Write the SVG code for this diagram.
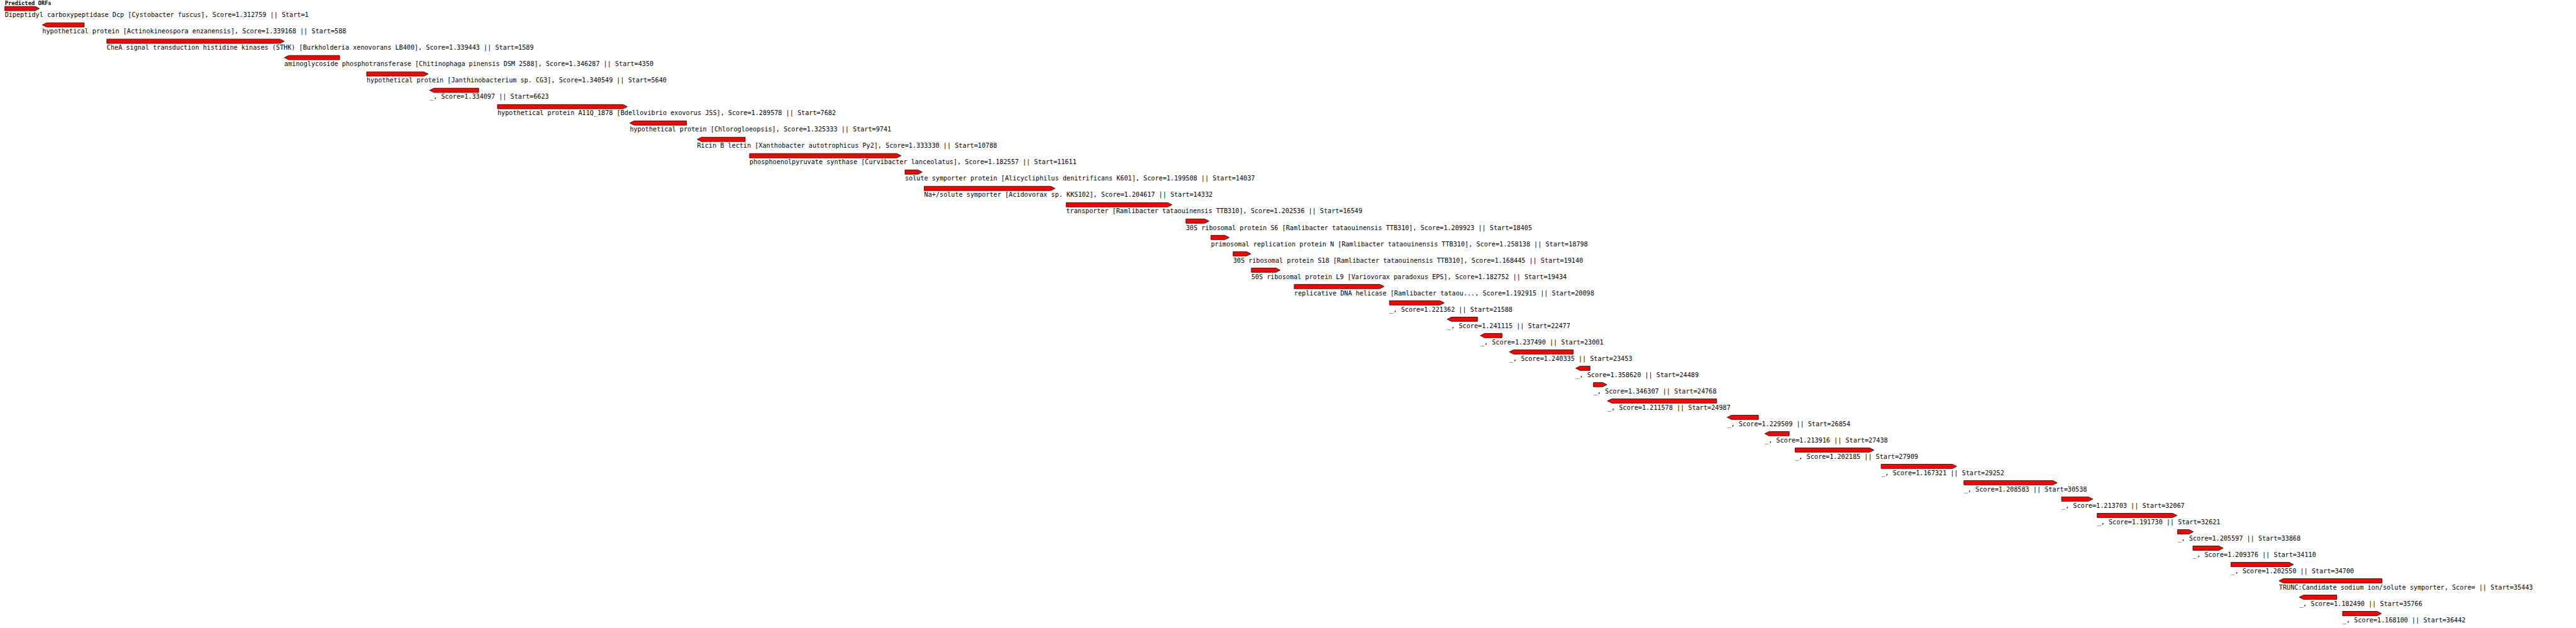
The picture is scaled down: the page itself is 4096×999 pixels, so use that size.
<svg xmlns="http://www.w3.org/2000/svg" width="4096" height="999" viewBox="0 0 4096 999">
<style>
.bar{fill:#ff0000;stroke:#000000;stroke-width:1}
.lbl{font-family:"DejaVu Sans Mono","Liberation Mono",monospace;font-size:13.3px;fill:#000000}
.ttl{font-family:"DejaVu Sans Mono","Liberation Mono",monospace;font-size:11.5px;font-weight:bold;fill:#000000}
</style>
<rect x="0" y="0" width="4096" height="999" fill="#ffffff"/>
<g transform="scale(0.765)">
<text id="title" class="ttl" x="10" y="11">Predicted ORFs</text>
<g id="orf1" transform="translate(0,13.3)"><polygon class="bar" points="10,0 73,0 82,4.5 73,9 10,9"/><text class="lbl" x="10" y="22.5">Dipeptidyl carboxypeptidase Dcp [Cystobacter fuscus], Score=1.312759 || Start=1</text></g>
<g id="orf2" transform="translate(0,47.3)"><polygon class="bar" points="88,4.5 97,0 175,0 175,9 97,9"/><text class="lbl" x="88" y="22.5">hypothetical protein [Actinokineospora enzanensis], Score=1.339168 || Start=588</text></g>
<g id="orf3" transform="translate(0,81.3)"><polygon class="bar" points="222,0 582,0 591,4.5 582,9 222,9"/><text class="lbl" x="222" y="22.5">CheA signal transduction histidine kinases (STHK) [Burkholderia xenovorans LB400], Score=1.339443 || Start=1589</text></g>
<g id="orf4" transform="translate(0,115.3)"><polygon class="bar" points="591,4.5 600,0 706,0 706,9 600,9"/><text class="lbl" x="591" y="22.5">aminoglycoside phosphotransferase [Chitinophaga pinensis DSM 2588], Score=1.346287 || Start=4350</text></g>
<g id="orf5" transform="translate(0,149.3)"><polygon class="bar" points="762,0 881,0 890,4.5 881,9 762,9"/><text class="lbl" x="762" y="22.5">hypothetical protein [Janthinobacterium sp. CG3], Score=1.340549 || Start=5640</text></g>
<g id="orf6" transform="translate(0,183.3)"><polygon class="bar" points="893,4.5 902,0 995,0 995,9 902,9"/><text class="lbl" x="893" y="22.5">_, Score=1.334097 || Start=6623</text></g>
<g id="orf7" transform="translate(0,217.3)"><polygon class="bar" points="1034,0 1295,0 1304,4.5 1295,9 1034,9"/><text class="lbl" x="1034" y="22.5">hypothetical protein A11Q_1878 [Bdellovibrio exovorus JSS], Score=1.289578 || Start=7682</text></g>
<g id="orf8" transform="translate(0,251.3)"><polygon class="bar" points="1309,4.5 1318,0 1427,0 1427,9 1318,9"/><text class="lbl" x="1309" y="22.5">hypothetical protein [Chlorogloeopsis], Score=1.325333 || Start=9741</text></g>
<g id="orf9" transform="translate(0,285.3)"><polygon class="bar" points="1449,4.5 1458,0 1549,0 1549,9 1458,9"/><text class="lbl" x="1449" y="22.5">Ricin B lectin [Xanthobacter autotrophicus Py2], Score=1.333330 || Start=10788</text></g>
<g id="orf10" transform="translate(0,319.3)"><polygon class="bar" points="1558,0 1864,0 1873,4.5 1864,9 1558,9"/><text class="lbl" x="1558" y="22.5">phosphoenolpyruvate synthase [Curvibacter lanceolatus], Score=1.182557 || Start=11611</text></g>
<g id="orf11" transform="translate(0,353.3)"><polygon class="bar" points="1881,0 1908,0 1917,4.5 1908,9 1881,9"/><text class="lbl" x="1881" y="22.5">solute symporter protein [Alicycliphilus denitrificans K601], Score=1.199508 || Start=14037</text></g>
<g id="orf12" transform="translate(0,387.3)"><polygon class="bar" points="1921,0 2184,0 2193,4.5 2184,9 1921,9"/><text class="lbl" x="1921" y="22.5">Na+/solute symporter [Acidovorax sp. KKS102], Score=1.204617 || Start=14332</text></g>
<g id="orf13" transform="translate(0,421.3)"><polygon class="bar" points="2216,0 2427,0 2436,4.5 2427,9 2216,9"/><text class="lbl" x="2216" y="22.5">transporter [Ramlibacter tataouinensis TTB310], Score=1.202536 || Start=16549</text></g>
<g id="orf14" transform="translate(0,455.3)"><polygon class="bar" points="2465,0 2504,0 2513,4.5 2504,9 2465,9"/><text class="lbl" x="2465" y="22.5">30S ribosomal protein S6 [Ramlibacter tataouinensis TTB310], Score=1.209923 || Start=18405</text></g>
<g id="orf15" transform="translate(0,489.3)"><polygon class="bar" points="2517,0 2546,0 2555,4.5 2546,9 2517,9"/><text class="lbl" x="2517" y="22.5">primosomal replication protein N [Ramlibacter tataouinensis TTB310], Score=1.258138 || Start=18798</text></g>
<g id="orf16" transform="translate(0,523.3)"><polygon class="bar" points="2563,0 2591,0 2600,4.5 2591,9 2563,9"/><text class="lbl" x="2563" y="22.5">30S ribosomal protein S18 [Ramlibacter tataouinensis TTB310], Score=1.168445 || Start=19140</text></g>
<g id="orf17" transform="translate(0,557.3)"><polygon class="bar" points="2601,0 2652,0 2661,4.5 2652,9 2601,9"/><text class="lbl" x="2601" y="22.5">50S ribosomal protein L9 [Variovorax paradoxus EPS], Score=1.182752 || Start=19434</text></g>
<g id="orf18" transform="translate(0,591.3)"><polygon class="bar" points="2690,0 2868,0 2877,4.5 2868,9 2690,9"/><text class="lbl" x="2690" y="22.5">replicative DNA helicase [Ramlibacter tataou..., Score=1.192915 || Start=20098</text></g>
<g id="orf19" transform="translate(0,625.3)"><polygon class="bar" points="2888,0 2993,0 3002,4.5 2993,9 2888,9"/><text class="lbl" x="2888" y="22.5">_, Score=1.221362 || Start=21588</text></g>
<g id="orf20" transform="translate(0,659.3)"><polygon class="bar" points="3008,4.5 3017,0 3071,0 3071,9 3017,9"/><text class="lbl" x="3008" y="22.5">_, Score=1.241115 || Start=22477</text></g>
<g id="orf21" transform="translate(0,693.3)"><polygon class="bar" points="3077,4.5 3086,0 3122,0 3122,9 3086,9"/><text class="lbl" x="3077" y="22.5">_, Score=1.237490 || Start=23001</text></g>
<g id="orf22" transform="translate(0,727.3)"><polygon class="bar" points="3137,4.5 3146,0 3270,0 3270,9 3146,9"/><text class="lbl" x="3137" y="22.5">_, Score=1.240335 || Start=23453</text></g>
<g id="orf23" transform="translate(0,761.3)"><polygon class="bar" points="3275,4.5 3284,0 3305,0 3305,9 3284,9"/><text class="lbl" x="3275" y="22.5">_, Score=1.358620 || Start=24489</text></g>
<g id="orf24" transform="translate(0,795.3)"><polygon class="bar" points="3312,0 3331,0 3340,4.5 3331,9 3312,9"/><text class="lbl" x="3312" y="22.5">_, Score=1.346307 || Start=24768</text></g>
<g id="orf25" transform="translate(0,829.3)"><polygon class="bar" points="3341,4.5 3350,0 3568,0 3568,9 3350,9"/><text class="lbl" x="3341" y="22.5">_, Score=1.211578 || Start=24987</text></g>
<g id="orf26" transform="translate(0,863.3)"><polygon class="bar" points="3590,4.5 3599,0 3655,0 3655,9 3599,9"/><text class="lbl" x="3590" y="22.5">_, Score=1.229509 || Start=26854</text></g>
<g id="orf27" transform="translate(0,897.3)"><polygon class="bar" points="3668,4.5 3677,0 3719,0 3719,9 3677,9"/><text class="lbl" x="3668" y="22.5">_, Score=1.213916 || Start=27438</text></g>
<g id="orf28" transform="translate(0,931.3)"><polygon class="bar" points="3731,0 3886,0 3895,4.5 3886,9 3731,9"/><text class="lbl" x="3731" y="22.5">_, Score=1.202185 || Start=27909</text></g>
<g id="orf29" transform="translate(0,965.3)"><polygon class="bar" points="3910,0 4058,0 4067,4.5 4058,9 3910,9"/><text class="lbl" x="3910" y="22.5">_, Score=1.167321 || Start=29252</text></g>
<g id="orf30" transform="translate(0,999.3)"><polygon class="bar" points="4082,0 4267,0 4276,4.5 4267,9 4082,9"/><text class="lbl" x="4082" y="22.5">_, Score=1.208583 || Start=30538</text></g>
<g id="orf31" transform="translate(0,1033.3)"><polygon class="bar" points="4285,0 4341,0 4350,4.5 4341,9 4285,9"/><text class="lbl" x="4285" y="22.5">_, Score=1.213703 || Start=32067</text></g>
<g id="orf32" transform="translate(0,1067.3)"><polygon class="bar" points="4359,0 4516,0 4525,4.5 4516,9 4359,9"/><text class="lbl" x="4359" y="22.5">_, Score=1.191730 || Start=32621</text></g>
<g id="orf33" transform="translate(0,1101.3)"><polygon class="bar" points="4526,0 4550,0 4559,4.5 4550,9 4526,9"/><text class="lbl" x="4526" y="22.5">_, Score=1.205597 || Start=33868</text></g>
<g id="orf34" transform="translate(0,1135.3)"><polygon class="bar" points="4558,0 4612,0 4621,4.5 4612,9 4558,9"/><text class="lbl" x="4558" y="22.5">_, Score=1.209376 || Start=34110</text></g>
<g id="orf35" transform="translate(0,1169.3)"><polygon class="bar" points="4637,0 4758,0 4767,4.5 4758,9 4637,9"/><text class="lbl" x="4637" y="22.5">_, Score=1.202550 || Start=34700</text></g>
<g id="orf36" transform="translate(0,1203.3)"><polygon class="bar" points="4737,4.5 4746,0 4951,0 4951,9 4746,9"/><text class="lbl" x="4737" y="22.5">TRUNC:Candidate sodium ion/solute symporter, Score= || Start=35443</text></g>
<g id="orf37" transform="translate(0,1237.3)"><polygon class="bar" points="4779,4.5 4788,0 4857,0 4857,9 4788,9"/><text class="lbl" x="4779" y="22.5">_, Score=1.182490 || Start=35766</text></g>
<g id="orf38" transform="translate(0,1271.3)"><polygon class="bar" points="4869,0 4941,0 4950,4.5 4941,9 4869,9"/><text class="lbl" x="4869" y="22.5">_, Score=1.168100 || Start=36442</text></g>
</g>
</svg>
